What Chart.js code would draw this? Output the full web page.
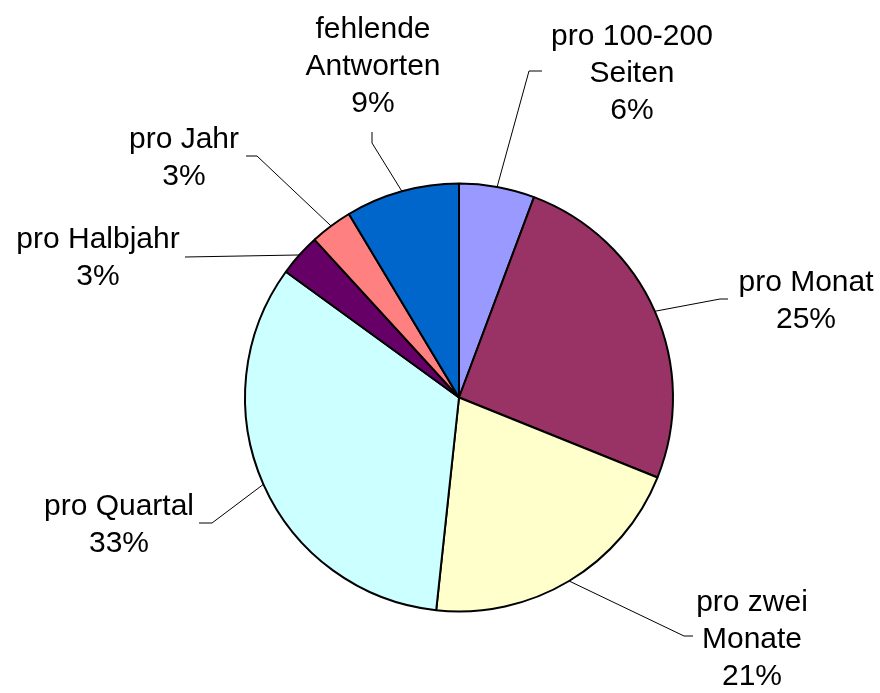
<!DOCTYPE html>
<html>
<head>
<meta charset="utf-8">
<script src="https://cdn.jsdelivr.net/npm/chart.js@4/dist/chart.umd.min.js"></script>
<style>
html,body{margin:0;padding:0;background:#fff;}
#wrap{width:880px;height:693px;position:relative;}
</style>
</head>
<body>
<div id="wrap"><canvas id="c" width="880" height="693"></canvas></div>
<script>
// Data
const categories = ['pro 100-200 Seiten', 'pro Monat', 'pro zwei Monate', 'pro Quartal', 'pro Halbjahr', 'pro Jahr', 'fehlende Antworten'];
const shares = [5.7, 25.4, 20.6, 33.3, 3.2, 3.2, 8.6];
const colors = ['#9999FF', '#993366', '#FFFFCC', '#CCFFFF', '#660066', '#FF8080', '#0066CC'];

// Label layout (offsets from the pie centre, in px)
const labelLayout = [
  {wrap: 170, tx: 173, ty: -360.5, elbow: [70, -326.5], end: [83, -326.5]},
  {wrap: 300, tx: 347, ty: -114.5, elbow: [261, -98.5], end: [269, -98.5]},
  {wrap: 130, tx: 293, ty: 205.5, elbow: [225, 238.5], end: [234, 238.5]},
  {wrap: 300, tx: -340, ty: 109.5, elbow: [-247, 125.5], end: [-260, 125.5]},
  {wrap: 300, tx: -361, ty: -157.5, elbow: [-274, -140.5], end: [-274, -140.5]},
  {wrap: 300, tx: -275, ty: -257.5, elbow: [-202, -241.5], end: [-213, -241.5]},
  {wrap: 170, tx: -86, ty: -367.5, elbow: [-87, -254.5], end: [-87, -265.5]}
];
const FONT = '30px "Liberation Sans", Arial, sans-serif';
const LINE_H = 36.8;

function wrapText(ctx, text, maxW) {
  const words = text.split(' ');
  const lines = [];
  let cur = '';
  for (const w of words) {
    const t = cur ? cur + ' ' + w : w;
    if (cur && ctx.measureText(t).width > maxW) { lines.push(cur); cur = w; }
    else cur = t;
  }
  if (cur) lines.push(cur);
  return lines;
}

const labelPlugin = {
  id: 'pieLabels',
  afterDatasetsDraw(chart) {
    const ctx = chart.ctx;
    const meta = chart.getDatasetMeta(0);
    const data = chart.data.datasets[0].data;
    ctx.save();
    ctx.font = FONT;
    ctx.fillStyle = '#000';
    ctx.textAlign = 'center';
    ctx.textBaseline = 'middle';
    meta.data.forEach((arc, i) => {
      const p = arc.getProps(['x', 'y', 'startAngle', 'endAngle', 'outerRadius'], true);
      const mid = (p.startAngle + p.endAngle) / 2;
      const ex = p.x + Math.cos(mid) * p.outerRadius;
      const ey = p.y + Math.sin(mid) * p.outerRadius;
      const L = labelLayout[i];
      ctx.strokeStyle = '#000';
      ctx.lineWidth = 1;
      ctx.beginPath();
      ctx.moveTo(ex, ey);
      ctx.lineTo(p.x + L.elbow[0], p.y + L.elbow[1]);
      ctx.lineTo(p.x + L.end[0], p.y + L.end[1]);
      ctx.stroke();
      const lines = wrapText(ctx, chart.data.labels[i], L.wrap);
      lines.push(Math.round(data[i]) + '%');
      lines.forEach((ln, k) => {
        ctx.fillText(ln, p.x + L.tx, p.y + L.ty + k * LINE_H);
      });
    });
    ctx.restore();
  }
};

new Chart(document.getElementById('c'), {
  type: 'pie',
  data: {
    labels: categories,
    datasets: [{
      data: shares,
      backgroundColor: colors,
      borderColor: '#000',
      borderWidth: 2
    }]
  },
  options: {
    responsive: false,
    animation: false,
    layout: {padding: {left: 244, right: 206, top: 182.5, bottom: 80.5}},
    plugins: {legend: {display: false}, tooltip: {enabled: false}}
  },
  plugins: [labelPlugin]
});
</script>
</body>
</html>
